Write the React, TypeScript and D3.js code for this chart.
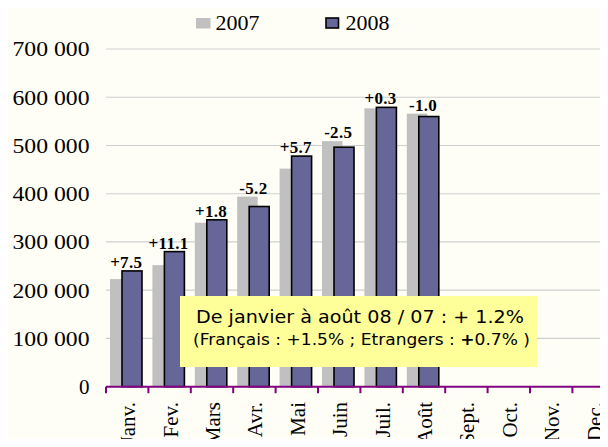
import React from "react";
import * as d3 from "d3";

const months = ["Janv.", "Fev.", "Mars", "Avr.", "Mai", "Juin", "Juil.", "Août", "Sept.", "Oct.", "Nov.", "Dec."];
const values2007 = [223000, 252000, 340000, 394000, 452000, 509000, 577000, 566000];
const values2008 = [240000, 280000, 346000, 373500, 478000, 496500, 579000, 560000];
const changeLabels = ["+7.5", "+11.1", "+1.8", "-5.2", "+5.7", "-2.5", "+0.3", "-1.0"];
const yTicks = [0, 100000, 200000, 300000, 400000, 500000, 600000, 700000];
const yTickLabels = ["0", "100 000", "200 000", "300 000", "400 000", "500 000", "600 000", "700 000"];
const seriesNames = ["2007", "2008"];
const noteLine1 = "De janvier à août 08 / 07 : + 1.2%";

const W = 608;
const H = 447;
const serif = "Liberation Serif, Times New Roman, serif";
const sans = "DejaVu Sans, Verdana, sans-serif";

export default function App() {
  const left = 106;
  const band = 42.4;
  const x = d3.scaleBand<string>().domain(months).range([left, left + band * 12]).paddingInner(0).paddingOuter(0);
  const y = d3.scaleLinear().domain([0, 700000]).range([386.7, 49]);
  const bw = x.bandwidth();
  const grayColor = "#c0c0c0";
  const blueColor = "#666699";

  return (
    <div style={{ margin: -8, width: W, height: H, overflow: "hidden" }}>
      <svg width={W} height={H} style={{ display: "block", background: "#fefef6" }}>
        {yTicks.slice(1).map((t) => (
          <line key={t} x1={left} x2={W} y1={y(t)} y2={y(t)} stroke="#cfcfcf" strokeWidth={1.2} />
        ))}
        {yTicks.map((t, i) => (
          <text
            key={t}
            x={89.5}
            y={y(t)}
            dy="0.35em"
            textAnchor="end"
            fontFamily={serif}
            fontSize={21}
            textLength={i === 0 ? undefined : 77}
            lengthAdjust="spacingAndGlyphs"
            fill="#000"
          >
            {yTickLabels[i]}
          </text>
        ))}
        {values2007.map((v, i) => (
          <rect
            key={"g" + i}
            x={(x(months[i]) as number) + 4}
            y={y(v)}
            width={20.5}
            height={y(0) - y(v)}
            fill={grayColor}
          />
        ))}
        {values2008.map((v, i) => (
          <rect
            key={"b" + i}
            x={(x(months[i]) as number) + 16}
            y={y(v)}
            width={20}
            height={y(0) - y(v)}
            fill={blueColor}
            stroke="#000"
            strokeWidth={1.6}
          />
        ))}
        {changeLabels.map((l, i) => {
          const top = Math.min(y(values2007[i]), y(values2008[i]));
          return (
            <text
              key={"l" + i}
              x={(x(months[i]) as number) + bw / 2 - 1}
              y={top - 3}
              textAnchor="middle"
              fontFamily={serif}
              fontWeight="bold"
              fontSize={17}
              letterSpacing={0.3}
              fill="#000"
            >
              {l}
            </text>
          );
        })}
        <line x1={left} x2={W} y1={y(0)} y2={y(0)} stroke="#800080" strokeWidth={2} />
        {months.map((m) => (
          <line
            key={"t" + m}
            x1={x(m) as number}
            x2={x(m) as number}
            y1={y(0)}
            y2={y(0) + 6.5}
            stroke="#800080"
            strokeWidth={2}
          />
        ))}
        {months.map((m) => (
          <text
            key={"c" + m}
            transform={`translate(${(x(m) as number) + bw / 2 + 8},402) rotate(-90)`}
            textAnchor="end"
            fontFamily={serif}
            fontSize={21}
            fill="#000"
          >
            {m}
          </text>
        ))}
        <rect x={196} y={18} width={14.5} height={10.5} fill={grayColor} />
        <text x={215.5} y={29.5} fontFamily={serif} fontSize={22} fill="#000">
          {seriesNames[0]}
        </text>
        <rect x={326} y={18} width={12.5} height={10} fill={blueColor} stroke="#000" strokeWidth={1.6} />
        <text x={345.5} y={29.5} fontFamily={serif} fontSize={22} fill="#000">
          {seriesNames[1]}
        </text>
        <rect x={180} y={296} width={357} height={71} fill="#ffff99" />
        <text
          x={360}
          y={323}
          textAnchor="middle"
          fontFamily={sans}
          fontSize={18.5}
          textLength={328}
          lengthAdjust="spacingAndGlyphs"
          fill="#000"
        >
          {noteLine1}
        </text>
        <text
          x={361.5}
          y={344.5}
          textAnchor="middle"
          fontFamily={sans}
          fontSize={15}
          textLength={337}
          lengthAdjust="spacingAndGlyphs"
          fill="#000"
        >
          {"(Français : +1.5% ; Etrangers : "}
          <tspan fontWeight="bold">+</tspan>
          {"0.7% )"}
        </text>
      </svg>
    </div>
  );
}
